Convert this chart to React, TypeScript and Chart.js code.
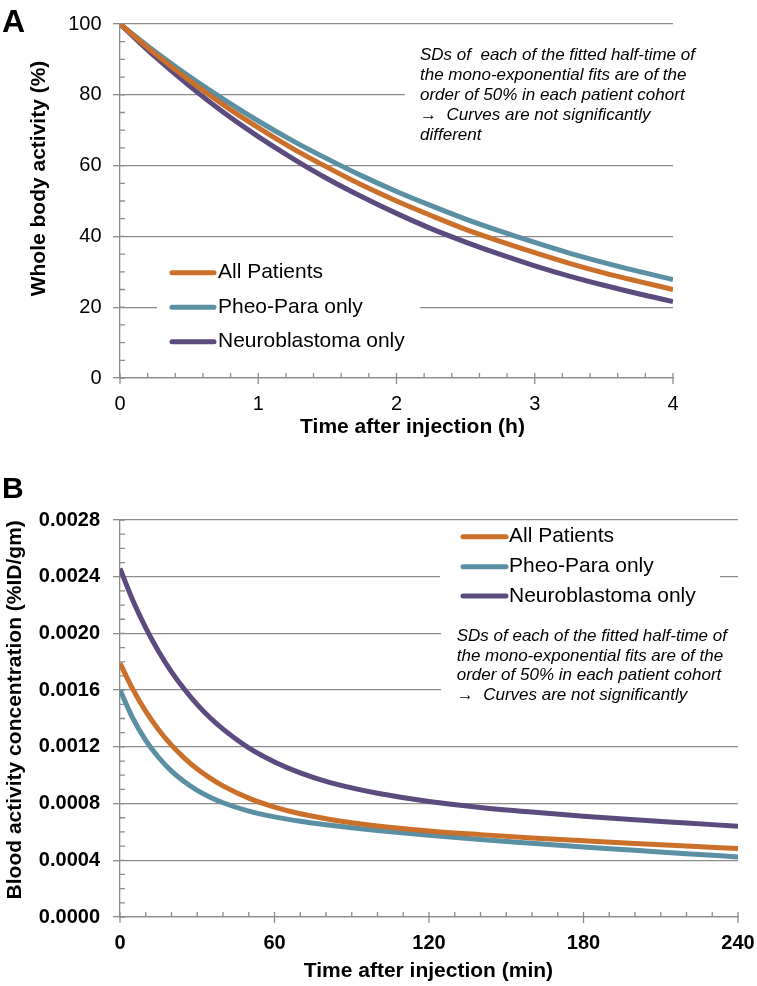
import React, { useEffect, useRef } from "react";
import { Chart, registerables } from "chart.js";

Chart.register(...registerables);

// ---------- Panel A data (whole body activity, %) ----------
const timeA = [0, 0.25, 0.5, 0.75, 1, 1.25, 1.5, 1.75, 2, 2.25, 2.5, 2.75, 3, 3.25, 3.5, 3.75, 4];
const allPatientsA = [100, 91.7, 84.1, 77.1, 70.7, 64.8, 59.5, 54.5, 50.0, 45.9, 42.0, 38.6, 35.4, 32.4, 29.7, 27.3, 25.0];
const pheoParaA = [100, 92.3, 85.2, 78.7, 72.6, 67.0, 61.9, 57.1, 52.7, 48.7, 44.9, 41.5, 38.3, 35.3, 32.6, 30.1, 27.8];
const neuroblastomaA = [100, 90.9, 82.6, 75.0, 68.2, 62.0, 56.3, 51.2, 46.5, 42.2, 38.4, 34.9, 31.7, 28.8, 26.2, 23.8, 21.6];

// ---------- Panel B data (blood activity concentration, %ID/gm) ----------
const timeB = [0, 5, 10, 15, 20, 25, 30, 35, 40, 50, 60, 70, 80, 90, 100, 120, 140, 160, 180, 200, 220, 240];
const allPatientsB = [0.00179, 0.001605, 0.00145, 0.001321, 0.001212, 0.001121, 0.001044, 0.00098, 0.000925, 0.000838, 0.000775, 0.000728, 0.000693, 0.000665, 0.000642, 0.000607, 0.000581, 0.000558, 0.000537, 0.000518, 0.0005, 0.000483];
const pheoParaB = [0.0016, 0.001401, 0.001246, 0.001125, 0.001029, 0.000954, 0.000893, 0.000845, 0.000806, 0.000747, 0.000706, 0.000675, 0.00065, 0.000629, 0.00061, 0.000577, 0.000547, 0.00052, 0.000494, 0.00047, 0.000446, 0.000424];
const neuroblastomaB = [0.002458, 0.002233, 0.00204, 0.001873, 0.001729, 0.001606, 0.001498, 0.001405, 0.001325, 0.001193, 0.001094, 0.001017, 0.000957, 0.000911, 0.000873, 0.000815, 0.000773, 0.00074, 0.000711, 0.000686, 0.000663, 0.00064];

const seriesNames = ["All Patients", "Pheo-Para only", "Neuroblastoma only"];
const noteLinesA = [
  "SDs of  each of the fitted half-time of",
  "the mono-exponential fits are of the",
  "order of 50% in each patient cohort",
  "\u2192  Curves are not significantly",
  "different",
];
const noteLinesB = [
  "SDs of each of the fitted half-time of",
  "the mono-exponential fits are of the",
  "order of 50% in each patient cohort",
  "\u2192  Curves are not significantly",
];

const COLORS = ["#CA702A", "#5A8FA4", "#5B4B7E"];
const GRID = "#8c8c8c";
const FONT = '"Liberation Sans", Arial, Helvetica, sans-serif';

type Decor = {
  letter: string;
  letterFont: string;
  letterPos: [number, number];
  yTitle: string;
  yTitlePos: [number, number];
  xTitle: string;
  xTitlePos: [number, number];
  tickFont: string;
  yLabelRight: number;
  xLabelY: number;
  yFmt: (v: number) => string;
  minorY: number;
  minorX: number;
  boxes: [number, number, number, number][];
  legend: { x1: number; x2: number; tx: number; rows: number[] };
  note: { x: number; rows: number[]; lines: string[] };
};

function makeDecor(cfg: Decor) {
  return {
    id: "decor",
    beforeDatasetsDraw(chart: any) {
      const ctx = chart.ctx;
      const xs = chart.scales.x;
      const ys = chart.scales.y;
      const a = chart.chartArea;
      ctx.save();
      ctx.fillStyle = "#ffffff";
      for (const b of cfg.boxes) ctx.fillRect(b[0], b[1], b[2], b[3]);
      ctx.strokeStyle = GRID;
      ctx.lineWidth = 1.3;
      ctx.beginPath();
      const ny = Math.round((ys.max - ys.min) / cfg.minorY);
      for (let i = 0; i <= ny; i++) {
        const p = ys.getPixelForValue(ys.min + i * cfg.minorY);
        ctx.moveTo(a.left, p);
        ctx.lineTo(a.left + 5, p);
      }
      const nx = Math.round((xs.max - xs.min) / cfg.minorX);
      for (let i = 0; i <= nx; i++) {
        const p = xs.getPixelForValue(xs.min + i * cfg.minorX);
        ctx.moveTo(p, a.bottom);
        ctx.lineTo(p, a.bottom - 5);
      }
      for (const t of xs.ticks) {
        const p = xs.getPixelForValue(t.value);
        ctx.moveTo(p, a.bottom - 5);
        ctx.lineTo(p, a.bottom + 6);
      }
      ctx.stroke();
      ctx.restore();
    },
    afterDraw(chart: any) {
      const ctx = chart.ctx;
      const xs = chart.scales.x;
      const ys = chart.scales.y;
      ctx.save();
      ctx.fillStyle = "#000000";
      // tick labels
      ctx.font = cfg.tickFont;
      ctx.textAlign = "right";
      ctx.textBaseline = "middle";
      for (const t of ys.ticks) ctx.fillText(cfg.yFmt(t.value), cfg.yLabelRight, ys.getPixelForValue(t.value));
      ctx.textAlign = "center";
      for (const t of xs.ticks) ctx.fillText(String(Math.round(t.value * 1000) / 1000), xs.getPixelForValue(t.value), cfg.xLabelY);
      // axis titles
      ctx.font = `bold 21px ${FONT}`;
      ctx.fillText(cfg.xTitle, cfg.xTitlePos[0], cfg.xTitlePos[1]);
      ctx.save();
      ctx.translate(cfg.yTitlePos[0], cfg.yTitlePos[1]);
      ctx.rotate(-Math.PI / 2);
      ctx.fillText(cfg.yTitle, 0, 0);
      ctx.restore();
      // panel letter
      ctx.font = cfg.letterFont;
      ctx.textAlign = "left";
      ctx.textBaseline = "alphabetic";
      ctx.fillText(cfg.letter, cfg.letterPos[0], cfg.letterPos[1]);
      // legend
      ctx.textBaseline = "middle";
      ctx.font = `21px ${FONT}`;
      ctx.lineCap = "round";
      ctx.lineWidth = 5;
      cfg.legend.rows.forEach((y, i) => {
        ctx.strokeStyle = COLORS[i];
        ctx.beginPath();
        ctx.moveTo(cfg.legend.x1, y);
        ctx.lineTo(cfg.legend.x2, y);
        ctx.stroke();
        ctx.fillText(seriesNames[i], cfg.legend.tx, y);
      });
      // note
      ctx.font = `italic 17px ${FONT}`;
      cfg.note.lines.forEach((line, i) => ctx.fillText(line, cfg.note.x, cfg.note.rows[i]));
      ctx.restore();
    },
  };
}

function buildChart(
  canvas: HTMLCanvasElement,
  xs: number[],
  ys: number[][],
  xRange: [number, number, number],
  yRange: [number, number, number],
  padding: { top: number; right: number },
  yWidth: number,
  xHeight: number,
  decor: Decor
) {
  const datasets = ys.map((arr, k) => ({
    label: seriesNames[k],
    data: xs.map((x, i) => ({ x, y: arr[i] })),
    borderColor: COLORS[k],
    backgroundColor: COLORS[k],
    borderWidth: 5,
    pointRadius: 0,
    cubicInterpolationMode: "monotone" as const,
    fill: false,
  }));
  // draw order: purple, teal, orange like reference overlapping
  return new Chart(canvas, {
    type: "line",
    data: { datasets },
    options: {
      animation: false,
      responsive: false,
      devicePixelRatio: 1,
      layout: { padding: { top: padding.top, right: padding.right, left: 0, bottom: 0 } },
      plugins: { legend: { display: false }, tooltip: { enabled: false } },
      scales: {
        x: {
          type: "linear",
          min: xRange[0],
          max: xRange[1],
          ticks: { stepSize: xRange[2], display: false },
          grid: { display: false },
          border: { display: true, color: GRID, width: 1.3 },
          afterFit: (s: any) => {
            s.height = xHeight;
          },
        },
        y: {
          type: "linear",
          min: yRange[0],
          max: yRange[1],
          ticks: { stepSize: yRange[2], display: false },
          grid: { color: GRID, lineWidth: 1.3, drawTicks: true, tickLength: 7 },
          border: { display: true, color: GRID, width: 1.3 },
          afterFit: (s: any) => {
            s.width = yWidth;
          },
        },
      },
    } as any,
    plugins: [makeDecor(decor)],
  });
}

export default function App() {
  const refA = useRef<HTMLCanvasElement>(null);
  const refB = useRef<HTMLCanvasElement>(null);

  useEffect(() => {
    const chartA = buildChart(
      refA.current!,
      timeA,
      [allPatientsA, pheoParaA, neuroblastomaA],
      [0, 4, 1],
      [0, 100, 20],
      { top: 24, right: 84 },
      120,
      82,
      {
        letter: "A",
        letterFont: `bold 32px ${FONT}`,
        letterPos: [2, 31.5],
        yTitle: "Whole body activity (%)",
        yTitlePos: [39, 178.5],
        xTitle: "Time after injection (h)",
        xTitlePos: [412.5, 427],
        tickFont: `20px ${FONT}`,
        yLabelRight: 101.5,
        xLabelY: 404,
        yFmt: (v) => String(Math.round(v)),
        minorY: 5,
        minorX: 0.2,
        boxes: [
          [157, 245, 263, 110],
          [405, 40, 290, 110],
        ],
        legend: { x1: 172, x2: 214, tx: 218, rows: [272.7, 307.3, 341.7] },
        note: { x: 420, rows: [55.5, 75.5, 95.5, 115.5, 135.5], lines: noteLinesA },
      }
    );
    const chartB = buildChart(
      refB.current!,
      timeB,
      [allPatientsB, pheoParaB, neuroblastomaB],
      [0, 240, 60],
      [0, 0.0028, 0.0004],
      { top: 60, right: 19 },
      120,
      69,
      {
        letter: "B",
        letterFont: `bold 30px ${FONT}`,
        letterPos: [2, 38.3],
        yTitle: "Blood activity concentration (%ID/gm)",
        yTitlePos: [15, 249.8],
        xTitle: "Time after injection (min)",
        xTitlePos: [428.4, 511.7],
        tickFont: `bold 20px ${FONT}`,
        yLabelRight: 100,
        xLabelY: 483,
        yFmt: (v) => v.toFixed(4),
        minorY: 0.0001,
        minorX: 10,
        boxes: [
          [440, 63, 280, 85],
          [441, 160, 316, 90],
        ],
        legend: { x1: 463, x2: 506, tx: 509, rows: [76.7, 106.7, 136] },
        note: { x: 456.7, rows: [176.7, 196, 215.5, 235], lines: noteLinesB },
      }
    );
    return () => {
      chartA.destroy();
      chartB.destroy();
    };
  }, []);

  return (
    <div style={{ position: "absolute", left: 0, top: 0, width: 757, height: 986, background: "#fff" }}>
      <canvas ref={refA} width={757} height={460} style={{ position: "absolute", left: 0, top: 0, display: "block" }} />
      <canvas ref={refB} width={757} height={526} style={{ position: "absolute", left: 0, top: 460, display: "block" }} />
    </div>
  );
}
